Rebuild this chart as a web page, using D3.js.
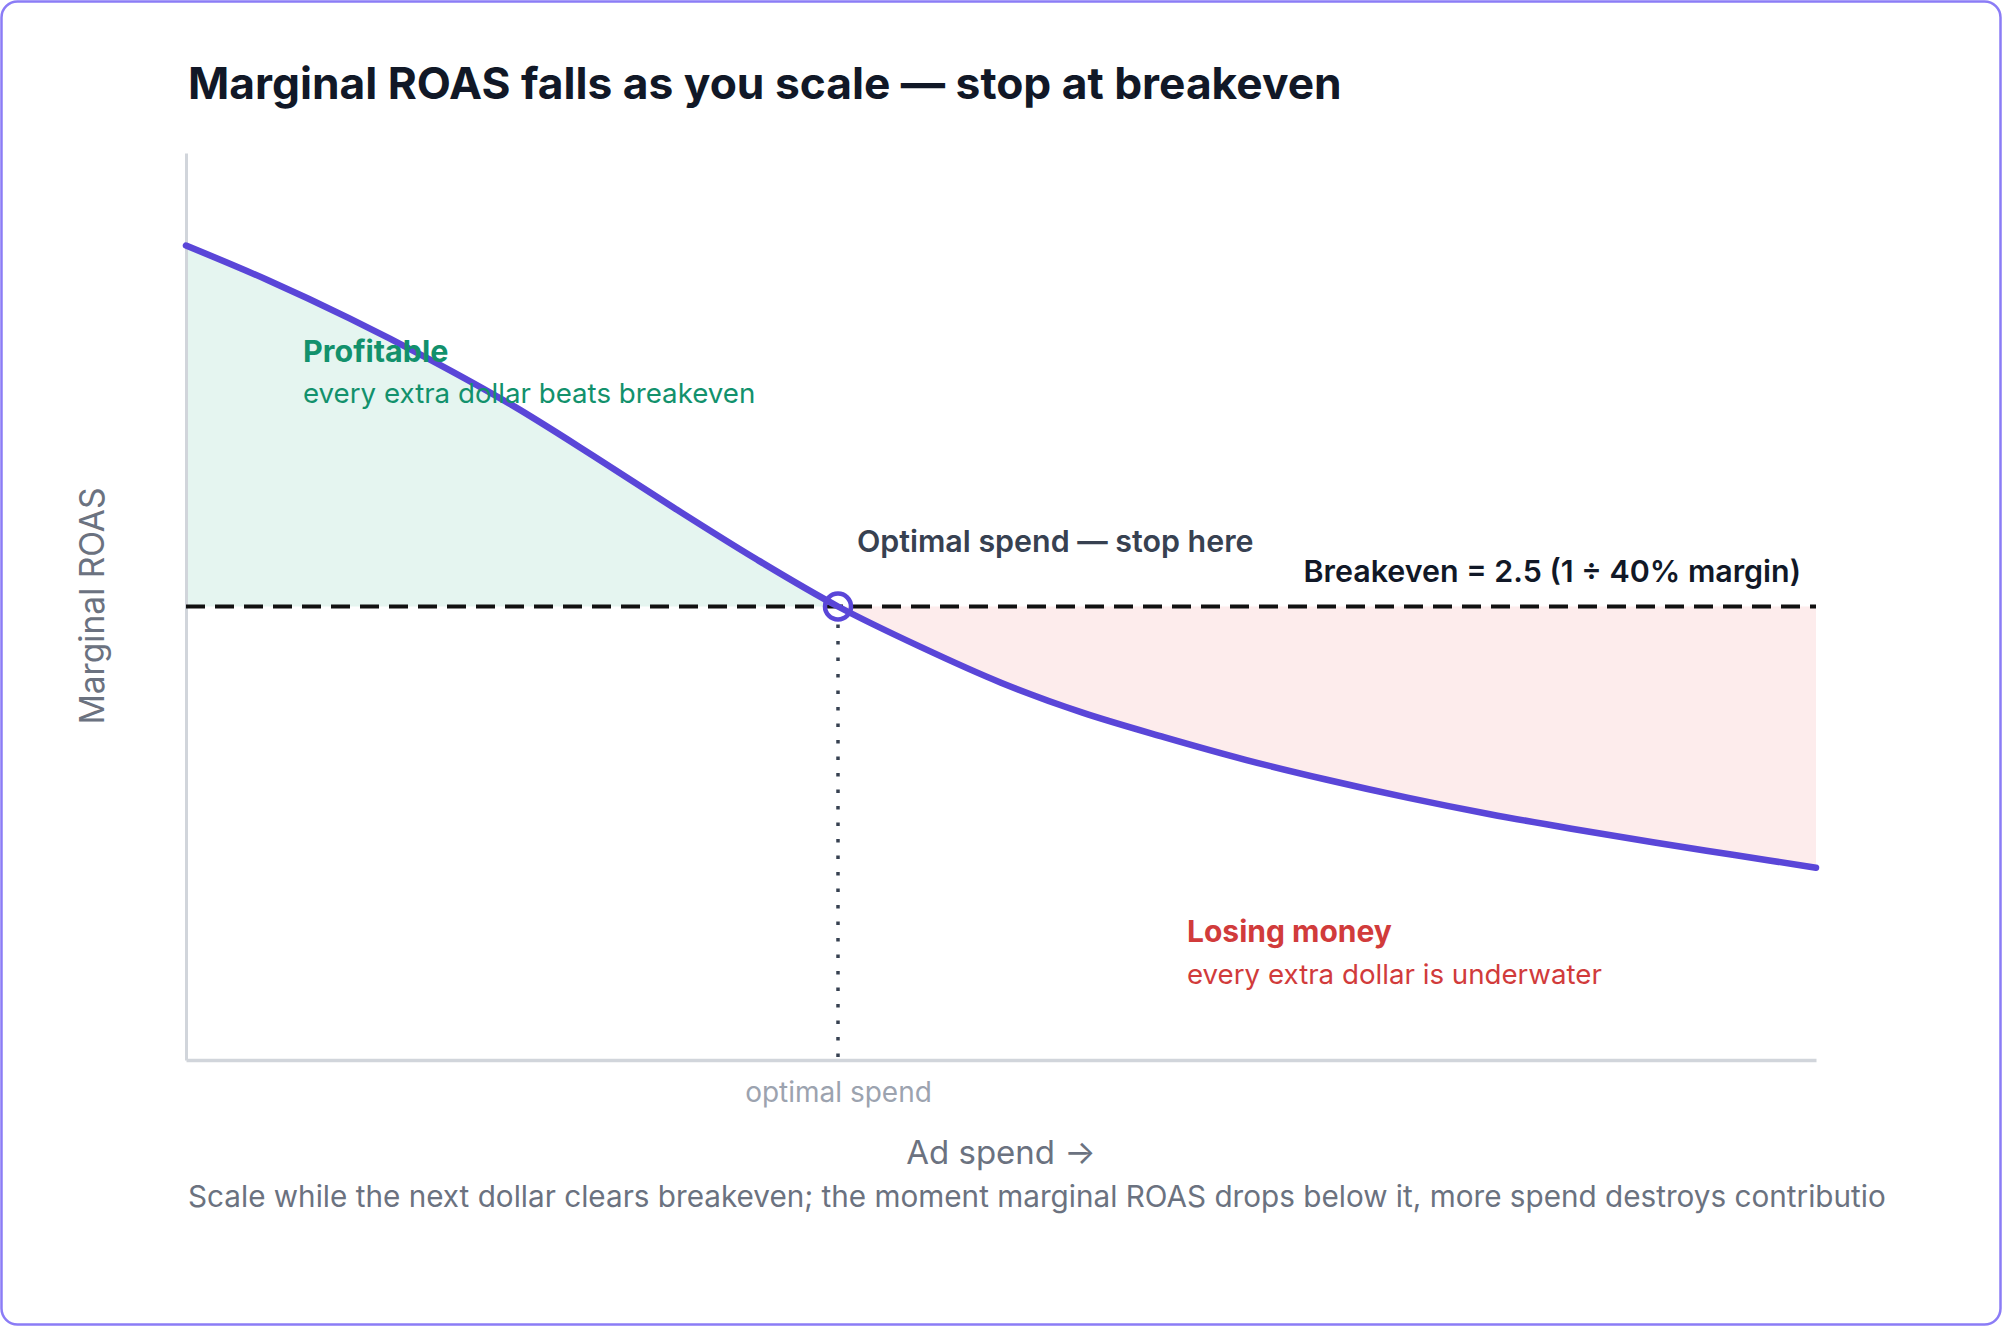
<!DOCTYPE html>
<html>
<head>
<meta charset="utf-8">
<script src="https://cdn.jsdelivr.net/npm/d3@7"></script>
<style>
  html, body { margin: 0; padding: 0; background: #ffffff; }
  svg { display: block; font-family: Inter, "Noto Sans", sans-serif; }
</style>
</head>
<body>
<svg id="chart" width="2002" height="1326"></svg>
<script>
// ---- data ----
const spend = [0, 5, 10, 15, 20, 25, 30, 35, 40, 45, 50, 55, 60, 65, 70, 75, 80, 85, 90, 95, 100];
const marginalRoas = [4.49, 4.30, 4.09, 3.86, 3.61, 3.33, 3.04, 2.76, 2.50, 2.28, 2.08, 1.915, 1.78, 1.655, 1.545, 1.445, 1.355, 1.275, 1.20, 1.13, 1.06];
const breakeven = 2.5;
const optimalSpend = 40;
const xDomain = [0, 100];
const yDomain = [0, 5];
const xTickLabels = ["optimal spend"];

const titleText = "Marginal ROAS falls as you scale \u2014 stop at breakeven";
const captionText = "Scale while the next dollar clears breakeven; the moment marginal ROAS drops below it, more spend destroys contribution.";

// ---- layout ----
const W = 2002, H = 1326;
const margin = { left: 186, top: 153, right: 186, bottom: 266 };
const innerW = 1816 - margin.left;
const innerH = 1060 - margin.top;

const svg = d3.select("#chart");

// card
svg.append("rect")
  .attr("x", 1.5).attr("y", 1.5)
  .attr("width", W - 3).attr("height", H - 3)
  .attr("rx", 16).attr("ry", 16)
  .attr("fill", "#ffffff")
  .attr("stroke", "#8b7cf6")
  .attr("stroke-width", 2.5);

// title
svg.append("text")
  .attr("x", 188).attr("y", 99)
  .attr("font-size", 44.3).attr("font-weight", 700)
  .attr("fill", "#111827")
  .text(titleText);

const g = svg.append("g").attr("transform", `translate(${margin.left},${margin.top})`);

const x = d3.scaleLinear().domain(xDomain).range([0, innerW]);
const y = d3.scaleLinear().domain(yDomain).range([innerH, 0]);

const data = spend.map((s, i) => ({ s, r: marginalRoas[i] }));
const left = data.filter(d => d.s <= optimalSpend);
const right = data.filter(d => d.s >= optimalSpend);

const curveType = d3.curveCatmullRom.alpha(0.5);

const area = d3.area()
  .x(d => x(d.s))
  .y0(y(breakeven))
  .y1(d => y(d.r))
  .curve(curveType);

g.append("path").datum(left).attr("d", area).attr("fill", "#e5f5f0");
g.append("path").datum(right).attr("d", area).attr("fill", "#fdecec");

// axes
const yAxis = d3.axisLeft(y).tickValues([]).tickSizeOuter(0);
const yg = g.append("g").call(yAxis);
yg.select(".domain").attr("stroke", "#d1d5db").attr("stroke-width", 3);

const xAxis = d3.axisBottom(x)
  .tickValues([optimalSpend])
  .tickFormat((d, i) => xTickLabels[i])
  .tickSize(0).tickSizeOuter(0).tickPadding(22);
const xg = g.append("g").attr("transform", `translate(0,${innerH})`).call(xAxis);
xg.select(".domain").attr("stroke", "#d1d5db").attr("stroke-width", 3.5);
xg.selectAll(".tick text")
  .attr("font-family", "Inter, sans-serif")
  .attr("font-size", 28)
  .attr("fill", "#9ca3af");

// breakeven dashed line
g.append("line")
  .attr("x1", x(xDomain[0])).attr("x2", x(xDomain[1]))
  .attr("y1", y(breakeven)).attr("y2", y(breakeven))
  .attr("stroke", "#111111").attr("stroke-width", 4)
  .attr("stroke-dasharray", "19,10");

// vertical dotted line at optimal spend
g.append("line")
  .attr("x1", x(optimalSpend)).attr("x2", x(optimalSpend))
  .attr("y1", y(breakeven) + 18).attr("y2", innerH)
  .attr("stroke", "#374151").attr("stroke-width", 3.5)
  .attr("stroke-dasharray", "3.5,13");

// curve
const line = d3.line().x(d => x(d.s)).y(d => y(d.r)).curve(curveType);
g.append("path").datum(data).attr("d", line)
  .attr("fill", "none").attr("stroke", "#5a46d8")
  .attr("stroke-width", 6.5).attr("stroke-linecap", "round");

// optimal marker
g.append("circle")
  .attr("cx", x(optimalSpend)).attr("cy", y(breakeven)).attr("r", 13)
  .attr("fill", "none").attr("stroke", "#5a46d8").attr("stroke-width", 4.5);

// annotations
const ann = (tx, ty, txt, size, weight, color, anchor) =>
  svg.append("text").attr("x", tx).attr("y", ty)
    .attr("font-size", size).attr("font-weight", weight)
    .attr("fill", color).attr("text-anchor", anchor || "start").text(txt);

ann(303, 362, "Profitable", 30.5, 700, "#12916c");
ann(303, 403, "every extra dollar beats breakeven", 27.7, 400, "#12916c");
ann(857, 552, "Optimal spend \u2014 stop here", 30.4, 600, "#374151");
ann(1801, 582, "Breakeven = 2.5 (1 \u00f7 40% margin)", 30.4, 600, "#111827", "end");
ann(1187, 942, "Losing money", 30, 700, "#d13b3b");
ann(1187, 984, "every extra dollar is underwater", 27.7, 400, "#d13b3b");

// axis titles
ann(1001, 1164, "Ad spend \u2192", 33, 400, "#6b7280", "middle");
svg.append("text")
  .attr("transform", "translate(104,606) rotate(-90)")
  .attr("text-anchor", "middle")
  .attr("font-size", 33.6).attr("fill", "#6b7280")
  .text("Marginal ROAS");

// caption, clipped like the reference
svg.append("clipPath").attr("id", "capclip")
  .append("rect").attr("x", 150).attr("y", 1160).attr("width", 1735).attr("height", 80);
svg.append("text")
  .attr("x", 188).attr("y", 1207)
  .attr("clip-path", "url(#capclip)")
  .attr("font-size", 29.7).attr("fill", "#6b7280")
  .text(captionText);
</script>
</body>
</html>
